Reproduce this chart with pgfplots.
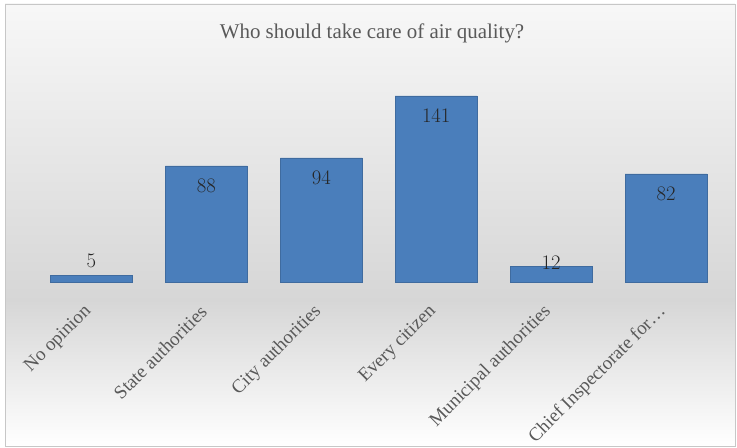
\documentclass[border=0pt]{standalone}
\usepackage{pgfplots}
\pgfplotsset{compat=1.18}
\usepackage{fontspec}
\setmainfont{Liberation Serif}
\definecolor{barblue}{HTML}{4A7EBB}
\definecolor{txtgray}{HTML}{595959}
\begin{document}
\begin{tikzpicture}[x=1bp,y=1bp]
\useasboundingbox (0,0) rectangle (737,448);
\shade[top color=white!97!black, bottom color=black!16] (5,148) rectangle (735,444);
\shade[top color=black!16, bottom color=white] (5,2) rectangle (735,148);
\draw[black!22] (5,2) rectangle (735,444);
\node[text=txtgray, font=\fontsize{21}{24}\selectfont] at (372,415) {Who should take care of air quality?};
\begin{axis}[
  at={(34bp,166bp)}, anchor=south west,
  scale only axis, width=689.5bp, height=198bp,
  xmin=-0.5, xmax=5.5, ymin=0, ymax=150,
  axis line style={draw=none},
  ytick=\empty, xtick=data,
  xticklabels={No opinion, State authorities, City authorities, Every citizen, Municipal authorities, Chief Inspectorate for\ldots},
  major tick length=0pt,
  xticklabel style={rotate=45, anchor=east, text=txtgray, font=\fontsize{19}{22}\selectfont, inner sep=1pt, yshift=-17bp, xshift=-20bp},
  ybar, bar width=82bp,
  nodes near coords,
  nodes near coords style={font=\fontsize{20}{24}\selectfont, text=black!85},
  every node near coord/.append style={anchor=center, yshift=-20bp},
  coordinate style/.condition={\coordindex==0}{yshift=35bp},
  coordinate style/.condition={\coordindex==4}{yshift=23bp},
  clip=false,
]
\addplot[fill=barblue, draw=barblue!85!black] coordinates {(0,5) (1,88) (2,94) (3,141) (4,12) (5,82)};
\end{axis}
\end{tikzpicture}
\end{document}
